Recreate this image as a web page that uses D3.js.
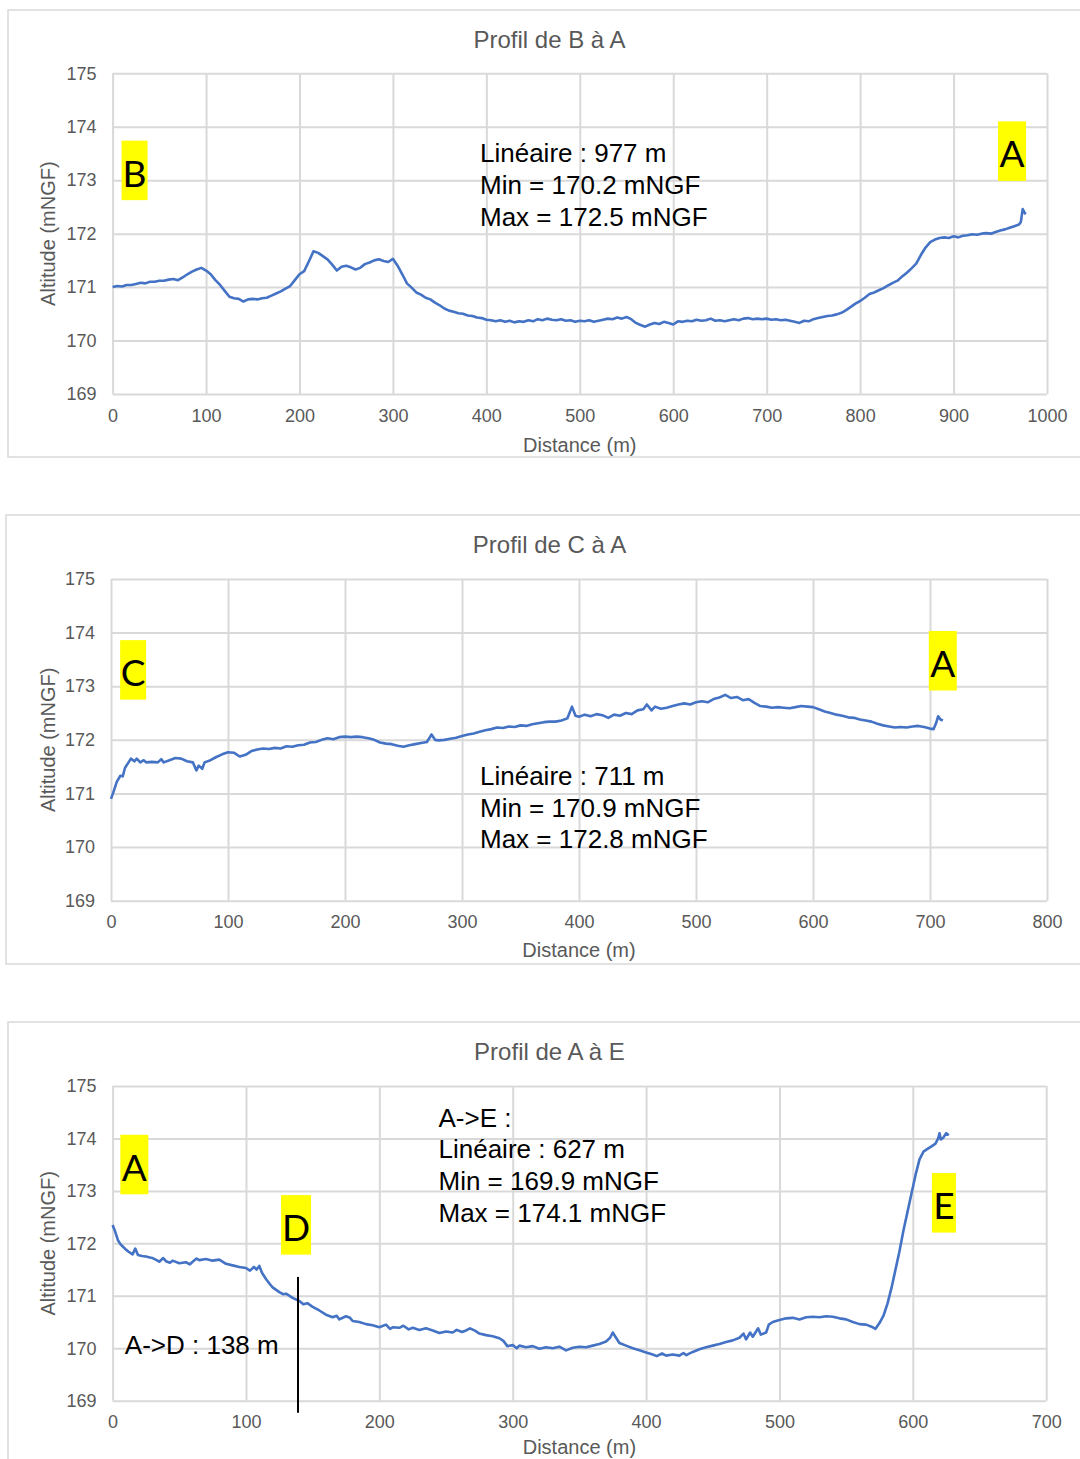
<!DOCTYPE html>
<html>
<head>
<meta charset="utf-8">
<script src="https://cdn.jsdelivr.net/npm/d3@7"></script>
<style>
  html, body { margin: 0; padding: 0; background: #ffffff; }
  svg { display: block; }
</style>
</head>
<body>
<svg id="chart" width="1080" height="1459"></svg>
<script>
// ---------------- DATA ----------------
const yTicks = [169, 170, 171, 172, 173, 174, 175];
const xTicksBA = [0, 100, 200, 300, 400, 500, 600, 700, 800, 900, 1000];
const xTicksCA = [0, 100, 200, 300, 400, 500, 600, 700, 800];
const xTicksAE = [0, 100, 200, 300, 400, 500, 600, 700];

const titles = ["Profil de B à A", "Profil de C à A", "Profil de A à E"];
const yAxisTitle = "Altitude (mNGF)";
const xAxisTitle = "Distance (m)";

const notesBA = ["Linéaire : 977 m", "Min = 170.2 mNGF", "Max = 172.5 mNGF"];
const notesCA = ["Linéaire : 711 m", "Min = 170.9 mNGF", "Max = 172.8 mNGF"];
const notesAE = ["A->E :", "Linéaire : 627 m", "Min = 169.9 mNGF", "Max = 174.1 mNGF"];
const noteAD = "A->D : 138 m";
const distAD = 139;

const pointsBA = ["B", "A"];
const pointsCA = ["C", "A"];
const pointsAE = ["A", "D", "E"];

// [distance (m), altitude (mNGF)]
const profileBA = [
[0,171.00],[5,171.02],[10,171.01],[15,171.04],[20,171.04],[25,171.06],[30,171.08],[35,171.07],[40,171.10],[45,171.10],
[50,171.12],[55,171.12],[60,171.14],[65,171.15],[70,171.13],[75,171.18],[80,171.24],[85,171.29],[90,171.33],[95,171.36],
[100,171.31],[105,171.24],[110,171.13],[115,171.04],[120,170.93],[125,170.82],[130,170.79],[135,170.78],[140,170.73],[145,170.77],
[150,170.78],[155,170.77],[160,170.79],[165,170.80],[170,170.84],[175,170.88],[180,170.92],[185,170.97],[190,171.02],[195,171.13],
[200,171.24],[205,171.30],[210,171.48],[215,171.67],[220,171.64],[225,171.58],[230,171.52],[235,171.42],[240,171.31],[245,171.38],
[250,171.40],[255,171.37],[260,171.33],[265,171.36],[270,171.43],[275,171.46],[280,171.50],[285,171.52],[290,171.49],[295,171.47],
[300,171.53],[305,171.40],[310,171.24],[315,171.07],[320,170.99],[325,170.90],[330,170.86],[335,170.80],[340,170.77],[345,170.71],
[350,170.66],[355,170.60],[360,170.56],[365,170.54],[370,170.51],[375,170.50],[380,170.47],[385,170.46],[390,170.43],[395,170.42],
[400,170.39],[405,170.38],[410,170.36],[415,170.38],[420,170.35],[425,170.37],[430,170.34],[435,170.36],[440,170.35],[445,170.38],
[450,170.36],[455,170.40],[460,170.38],[465,170.41],[470,170.39],[475,170.38],[480,170.40],[485,170.37],[490,170.38],[495,170.35],
[500,170.37],[505,170.36],[510,170.38],[515,170.35],[520,170.37],[525,170.39],[530,170.41],[535,170.40],[540,170.43],[545,170.41],
[550,170.44],[555,170.40],[560,170.33],[565,170.29],[570,170.26],[575,170.30],[580,170.33],[585,170.31],[590,170.35],[595,170.33],
[600,170.30],[605,170.36],[610,170.35],[615,170.37],[620,170.36],[625,170.39],[630,170.37],[635,170.38],[640,170.41],[645,170.37],
[650,170.38],[655,170.36],[660,170.38],[665,170.40],[670,170.38],[675,170.41],[680,170.42],[685,170.40],[690,170.41],[695,170.40],
[700,170.41],[705,170.39],[710,170.40],[715,170.38],[720,170.39],[725,170.37],[730,170.35],[735,170.33],[740,170.37],[745,170.36],
[750,170.40],[755,170.42],[760,170.44],[765,170.46],[770,170.47],[775,170.49],[780,170.52],[785,170.57],[790,170.63],[795,170.69],
[800,170.74],[805,170.80],[810,170.87],[815,170.90],[820,170.94],[825,170.98],[830,171.03],[835,171.08],[840,171.12],[845,171.20],
[850,171.27],[855,171.35],[860,171.44],[865,171.60],[870,171.74],[875,171.84],[880,171.89],[885,171.92],[890,171.93],[895,171.92],
[900,171.95],[905,171.93],[910,171.96],[915,171.97],[920,171.99],[925,171.98],[930,172.00],[935,172.01],[940,172.00],[945,172.03],
[950,172.06],[955,172.08],[960,172.11],[965,172.14],[970,172.17],[972,172.22],[974,172.46],[977,172.36]
];

const profileCA = [
[0,170.90],[2,171.02],[5,171.22],[8,171.33],[10,171.32],[12,171.48],[15,171.58],[17,171.65],[20,171.60],[22,171.65],
[25,171.58],[28,171.62],[30,171.58],[35,171.59],[40,171.58],[43,171.64],[45,171.58],[50,171.62],[55,171.66],[60,171.65],
[65,171.60],[70,171.58],[73,171.43],[75,171.52],[78,171.46],[80,171.58],[85,171.62],[90,171.68],[95,171.73],[100,171.77],
[105,171.76],[110,171.69],[115,171.72],[120,171.79],[125,171.82],[130,171.84],[135,171.83],[140,171.85],[145,171.84],[150,171.88],
[155,171.87],[160,171.90],[165,171.91],[170,171.95],[175,171.96],[180,172.00],[185,172.03],[190,172.01],[195,172.05],[200,172.06],
[205,172.05],[210,172.06],[215,172.05],[220,172.03],[225,172.00],[230,171.95],[235,171.93],[240,171.92],[245,171.89],[250,171.87],
[255,171.90],[260,171.92],[265,171.94],[270,171.96],[274,172.10],[277,172.00],[280,171.99],[285,172.00],[290,172.02],[295,172.04],
[300,172.07],[305,172.10],[310,172.12],[315,172.15],[320,172.18],[325,172.20],[330,172.23],[335,172.22],[340,172.25],[345,172.24],
[350,172.27],[355,172.26],[360,172.29],[365,172.31],[370,172.33],[375,172.34],[380,172.34],[385,172.36],[390,172.40],[394,172.62],
[397,172.45],[400,172.43],[405,172.47],[410,172.44],[415,172.48],[420,172.46],[425,172.41],[430,172.47],[435,172.45],[440,172.50],
[445,172.48],[450,172.55],[455,172.57],[458,172.66],[462,172.55],[465,172.62],[470,172.58],[475,172.60],[480,172.63],[485,172.66],
[490,172.68],[495,172.66],[500,172.70],[505,172.72],[510,172.70],[515,172.76],[520,172.79],[525,172.84],[530,172.78],[535,172.80],
[540,172.74],[545,172.76],[550,172.69],[555,172.63],[560,172.62],[565,172.60],[570,172.61],[575,172.60],[580,172.59],[585,172.61],
[590,172.63],[595,172.62],[600,172.61],[605,172.57],[610,172.53],[615,172.50],[620,172.47],[625,172.45],[630,172.42],[635,172.41],
[640,172.38],[645,172.36],[650,172.34],[655,172.30],[660,172.27],[665,172.25],[670,172.23],[675,172.24],[680,172.23],[685,172.25],
[690,172.26],[695,172.24],[700,172.21],[703,172.20],[705,172.30],[707,172.44],[709,172.38],[711,172.36]
];

const profileAE = [
[0,172.35],[2,172.22],[4,172.06],[6,171.98],[8,171.93],[10,171.88],[12,171.84],[15,171.79],[17,171.90],[19,171.78],
[22,171.76],[25,171.75],[28,171.73],[30,171.72],[33,171.68],[35,171.65],[38,171.72],[40,171.66],[43,171.63],[45,171.67],
[50,171.62],[55,171.64],[58,171.60],[60,171.65],[63,171.71],[65,171.68],[70,171.70],[75,171.67],[80,171.69],[85,171.61],
[90,171.58],[95,171.55],[100,171.53],[103,171.48],[106,171.55],[108,171.50],[110,171.57],[112,171.44],[115,171.32],[118,171.22],
[120,171.16],[125,171.07],[128,171.03],[130,171.04],[135,170.96],[140,170.90],[143,170.84],[146,170.86],[150,170.79],[155,170.72],
[160,170.64],[165,170.59],[168,170.62],[170,170.55],[175,170.61],[178,170.58],[180,170.52],[185,170.50],[190,170.46],[195,170.44],
[200,170.40],[205,170.45],[208,170.37],[210,170.40],[215,170.39],[218,170.43],[222,170.36],[225,170.39],[230,170.35],[235,170.38],
[240,170.34],[245,170.29],[250,170.32],[255,170.30],[258,170.35],[262,170.31],[265,170.34],[268,170.38],[272,170.33],[275,170.28],
[280,170.25],[285,170.23],[290,170.19],[293,170.14],[296,170.04],[300,170.06],[303,170.00],[305,170.05],[310,170.02],[315,170.04],
[320,169.99],[325,170.02],[330,170.00],[335,170.03],[340,169.96],[345,170.01],[350,170.03],[355,170.02],[360,170.05],[365,170.08],
[370,170.13],[373,170.20],[375,170.30],[377,170.22],[380,170.10],[385,170.05],[390,170.00],[395,169.96],[400,169.92],[405,169.88],
[408,169.85],[412,169.90],[415,169.86],[420,169.88],[425,169.86],[428,169.91],[430,169.87],[435,169.93],[440,169.98],[445,170.02],
[450,170.05],[455,170.08],[460,170.12],[465,170.15],[470,170.20],[473,170.28],[475,170.17],[478,170.30],[480,170.22],[484,170.38],
[486,170.26],[490,170.30],[492,170.45],[495,170.50],[500,170.54],[505,170.57],[510,170.58],[515,170.55],[520,170.59],[525,170.60],
[530,170.59],[535,170.61],[540,170.60],[545,170.57],[550,170.55],[555,170.50],[560,170.46],[565,170.45],[570,170.40],[572,170.37],
[575,170.48],[578,170.62],[581,170.85],[584,171.15],[587,171.50],[590,171.85],[593,172.25],[596,172.60],[599,172.95],[602,173.30],
[605,173.60],[608,173.75],[611,173.80],[614,173.85],[617,173.90],[619,174.00],[620,174.10],[621,173.98],[623,174.02],[625,174.10],
[627,174.06]
];

// ---------------- LAYOUT ----------------
const panels = [
  { profile: profileBA, xTicks: xTicksBA, title: titles[0], notes: notesBA, points: pointsBA,
    box: { x: 8, y: 10, w: 1090, h: 447 },
    plot: { l: 112.6, r: 1047, t: 73.3, b: 394 },
    titleY: 48, xTitleY: 452,
    notePos: { x: 480, y: 162, dy: 32 },
    labelPos: [ { d: 9.6, a: 173.74, w: 26 }, { d: 947.6, a: 174.1, w: 28 } ] },
  { profile: profileCA, xTicks: xTicksCA, title: titles[1], notes: notesCA, points: pointsCA,
    box: { x: 6, y: 515, w: 1092, h: 449 },
    plot: { l: 111, r: 1047, t: 579, b: 900.7 },
    titleY: 553, xTitleY: 957,
    notePos: { x: 480, y: 785, dy: 31.5 },
    labelPos: [ { d: 7.8, a: 173.86, w: 26 }, { d: 699.0, a: 174.03, w: 28 } ] },
  { profile: profileAE, xTicks: xTicksAE, title: titles[2], notes: notesAE, points: pointsAE,
    box: { x: 8, y: 1022, w: 1090, h: 460 },
    plot: { l: 112.6, r: 1046.2, t: 1086, b: 1400.7 },
    titleY: 1060, xTitleY: 1454,
    notePos: { x: 438.5, y: 1126.7, dy: 31.7 },
    labelPos: [ { d: 5.8, a: 174.07, w: 28 }, { d: 126.3, a: 172.92, w: 30 }, { d: 614.3, a: 173.34, w: 24 } ],
    divider: { d: distAD, a0: 171.36, a1: 168.77, text: noteAD, tx: 124.8, ty: 1354 } }
];

const FONT = "'Liberation Sans', Arial, sans-serif";
const LABEL_FONT = "Lato, 'Open Sans', sans-serif";
const GRID = "#d9d9d9";
const TEXT_GRAY = "#595959";
const LINE = "#4472C4";

const svg = d3.select("#chart");

panels.forEach(p => {
  const g = svg.append("g");
  const x = d3.scaleLinear().domain([0, p.xTicks[p.xTicks.length - 1]]).range([p.plot.l, p.plot.r]);
  const y = d3.scaleLinear().domain([yTicks[0], yTicks[yTicks.length - 1]]).range([p.plot.b, p.plot.t]);

  g.append("rect")
    .attr("x", p.box.x).attr("y", p.box.y).attr("width", p.box.w).attr("height", p.box.h)
    .attr("fill", "#fff").attr("stroke", GRID).attr("stroke-width", 1.5);

  g.append("text")
    .attr("x", 549.5).attr("y", p.titleY)
    .attr("text-anchor", "middle")
    .attr("font-family", FONT).attr("font-size", 24).attr("fill", TEXT_GRAY)
    .text(p.title);

  const xa = g.append("g")
    .attr("transform", `translate(0,${p.plot.b})`)
    .call(d3.axisBottom(x).tickValues(p.xTicks).tickFormat(d3.format("d"))
      .tickSizeInner(-(p.plot.b - p.plot.t)).tickSizeOuter(0).tickPadding(15));
  xa.select(".domain").remove();
  xa.selectAll(".tick line").attr("stroke", GRID).attr("stroke-width", 2);
  xa.selectAll(".tick text").attr("font-family", FONT).attr("font-size", 18).attr("fill", TEXT_GRAY);

  const ya = g.append("g")
    .attr("transform", `translate(${p.plot.l},0)`)
    .call(d3.axisLeft(y).tickValues(yTicks).tickFormat(d3.format("d"))
      .tickSizeInner(-(p.plot.r - p.plot.l)).tickSizeOuter(0).tickPadding(16));
  ya.select(".domain").remove();
  ya.selectAll(".tick line").attr("stroke", GRID).attr("stroke-width", 2);
  ya.selectAll(".tick text").attr("font-family", FONT).attr("font-size", 18).attr("fill", TEXT_GRAY);

  g.append("text")
    .attr("x", (p.plot.l + p.plot.r) / 2).attr("y", p.xTitleY)
    .attr("text-anchor", "middle")
    .attr("font-family", FONT).attr("font-size", 20).attr("fill", TEXT_GRAY)
    .text(xAxisTitle);
  g.append("text")
    .attr("transform", `translate(55,${(p.plot.t + p.plot.b) / 2}) rotate(-90)`)
    .attr("text-anchor", "middle")
    .attr("font-family", FONT).attr("font-size", 20).attr("fill", TEXT_GRAY)
    .text(yAxisTitle);

  const line = d3.line().x(d => x(d[0])).y(d => y(d[1]));
  g.append("path")
    .datum(p.profile)
    .attr("d", line)
    .attr("fill", "none")
    .attr("stroke", LINE)
    .attr("stroke-width", 2.6)
    .attr("stroke-linejoin", "round");

  p.notes.forEach((t, i) => {
    g.append("text")
      .attr("x", p.notePos.x).attr("y", p.notePos.y + i * p.notePos.dy)
      .attr("font-family", FONT).attr("font-size", 26).attr("fill", "#000")
      .text(t);
  });

  p.points.forEach((t, i) => {
    const lp = p.labelPos[i];
    const bx = x(lp.d), by = y(lp.a);
    g.append("rect")
      .attr("x", bx).attr("y", by).attr("width", lp.w).attr("height", 59.5)
      .attr("fill", "#ffff00");
    g.append("text")
      .attr("x", bx + lp.w / 2).attr("y", by + 46)
      .attr("text-anchor", "middle")
      .attr("font-family", LABEL_FONT).attr("font-size", 37).attr("fill", "#000")
      .text(t);
  });

  if (p.divider) {
    g.append("line")
      .attr("x1", x(p.divider.d)).attr("x2", x(p.divider.d))
      .attr("y1", y(p.divider.a0)).attr("y2", y(p.divider.a1))
      .attr("stroke", "#000").attr("stroke-width", 2);
    g.append("text")
      .attr("x", p.divider.tx).attr("y", p.divider.ty)
      .attr("font-family", FONT).attr("font-size", 26).attr("fill", "#000")
      .text(p.divider.text);
  }
});
</script>
</body>
</html>
